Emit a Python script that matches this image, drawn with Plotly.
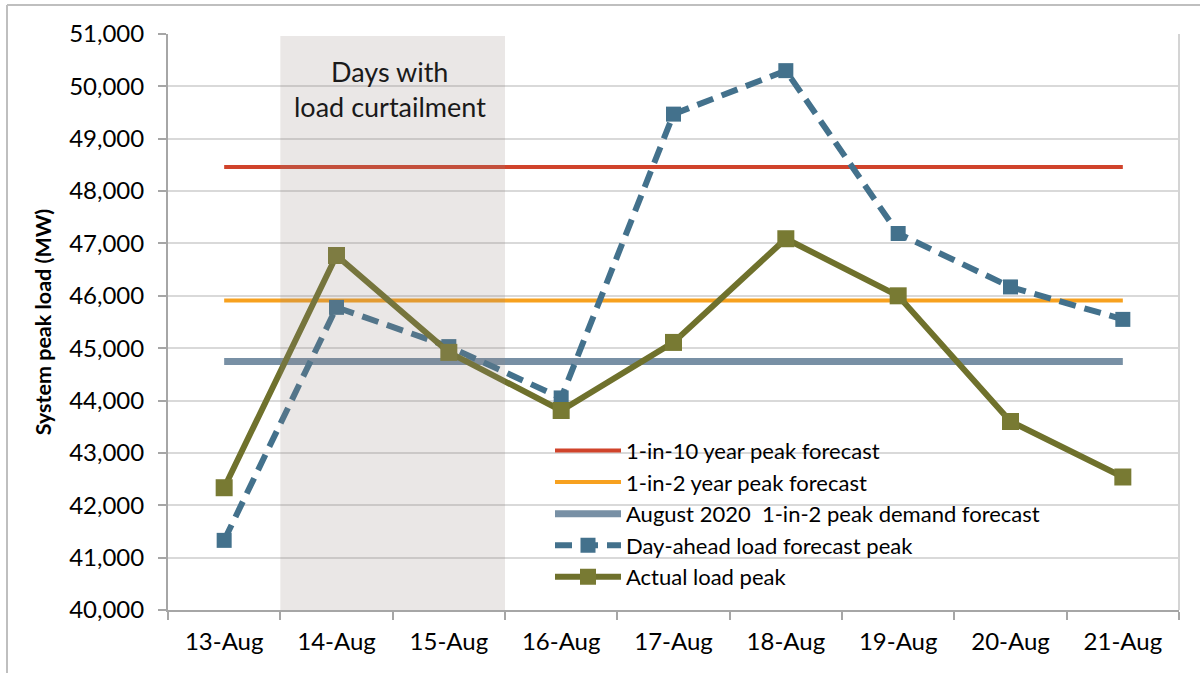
import plotly.graph_objects as go

categories = ["13-Aug", "14-Aug", "15-Aug", "16-Aug", "17-Aug", "18-Aug", "19-Aug", "20-Aug", "21-Aug"]
day_ahead = [41330, 45780, 45030, 44050, 49470, 50300, 47190, 46170, 45550]
actual = [42335, 46770, 44920, 43810, 45110, 47090, 46000, 43600, 42540]
one_in_10 = 48460
one_in_2 = 45910
aug2020 = 44745
curtail_days = ["14-Aug", "15-Aug"]

FONT = "Lato"
W, H = 1200, 673
L, R, T, B = 168, 1179, 34, 610.5

fig = go.Figure()

ends = [categories[0], categories[-1]]
fig.add_trace(go.Scatter(x=ends, y=[one_in_10, one_in_10], mode="lines",
                         name="1-in-10 year peak forecast", legendgroup="a",
                         line=dict(color="#d0432b", width=4)))
fig.add_trace(go.Scatter(x=ends, y=[one_in_2, one_in_2], mode="lines",
                         name="1-in-2 year peak forecast", legendgroup="b",
                         line=dict(color="#f7a11f", width=4)))
fig.add_trace(go.Scatter(x=ends, y=[aug2020, aug2020], mode="lines",
                         name="August 2020  1-in-2 peak demand forecast", legendgroup="c",
                         line=dict(color="#7890a5", width=7)))
fig.add_trace(go.Scatter(x=categories, y=day_ahead, mode="lines+markers",
                         name="Day-ahead load forecast peak", legendgroup="d",
                         line=dict(color="#43718c", width=6, dash="17px,9px"),
                         marker=dict(symbol="square", size=15, color="#43718c")))
fig.add_trace(go.Scatter(x=categories, y=actual, mode="lines+markers",
                         name="Actual load peak", legendgroup="e",
                         line=dict(color="#6f712c", width=6),
                         marker=dict(symbol="square", size=17, color="#787a33")))

pw = R - L
ph = B - T
def px(x):
    return (x - L) / pw
def py(y):
    return (B - y) / ph

shapes = [
    # shaded curtailment days
    dict(type="rect", xref="x", yref="paper",
         x0=categories.index(curtail_days[0]) - 0.5, x1=categories.index(curtail_days[-1]) + 0.5,
         y0=0, y1=py(36), fillcolor="rgba(150,135,130,0.2)", line=dict(width=0), layer="above"),
    # right plot border
    dict(type="line", xref="paper", yref="paper", x0=1, x1=1, y0=0, y1=1,
         line=dict(color="#d4d4d4", width=2)),
    # outer chart border
    dict(type="line", xref="paper", yref="paper", x0=px(7), x1=px(1210), y0=py(5), y1=py(5),
         line=dict(color="#bfbfbf", width=2)),
    dict(type="line", xref="paper", yref="paper", x0=px(7), x1=px(7), y0=py(5), y1=py(680),
         line=dict(color="#bfbfbf", width=2)),
]

annotations = [
    dict(text="Days with", xref="x", yref="paper", x=1.5, y=py(72), xshift=-3,
         xanchor="center", yanchor="middle",
         showarrow=False, font=dict(family=FONT, size=27, color="#1a1a1a")),
    dict(text="load curtailment", xref="x", yref="paper", x=1.5, y=py(107), xshift=-3,
         xanchor="center", yanchor="middle",
         showarrow=False, font=dict(family=FONT, size=27, color="#1a1a1a")),
]

fig.update_layout(
    width=W, height=H,
    margin=dict(l=L, r=W - R, t=T, b=H - B, autoexpand=False),
    paper_bgcolor="white", plot_bgcolor="white",
    font=dict(family=FONT, color="#000000"),
    shapes=shapes, annotations=annotations,
    showlegend=True,
    legend=dict(x=px(550), y=py(430), xanchor="left", yanchor="top",
                bgcolor="rgba(0,0,0,0)", font=dict(family=FONT, size=22, color="#000"),
                traceorder="grouped", tracegroupgap=0, itemwidth=66),
    xaxis=dict(type="category", categoryorder="array", categoryarray=categories,
               range=[-0.5, len(categories) - 0.5],
               showgrid=False, showline=True, linecolor="#a6a6a6", linewidth=2,
               ticks="outside", tickson="boundaries", ticklen=8, tickcolor="#a6a6a6", tickwidth=2,
               tickfont=dict(family=FONT, size=24, color="#000"), ticklabelstandoff=9,
               zeroline=False, fixedrange=True),
    yaxis=dict(range=[40000, 51000], dtick=1000, tick0=40000, tickformat=",",
               showgrid=True, gridcolor="#d9d9d9", gridwidth=2,
               showline=True, linecolor="#a6a6a6", linewidth=2,
               ticks="outside", ticklen=8, tickcolor="#a6a6a6", tickwidth=2,
               tickfont=dict(family=FONT, size=24, color="#000"), ticklabelstandoff=9,
               title=dict(text="<b>System peak load (MW)</b>", standoff=12,
                          font=dict(family=FONT, size=21.5, color="#000")),
               zeroline=False, fixedrange=True),
)

fig.write_html("out.html", config={"displayModeBar": False},
               post_script="document.body.style.margin='0';")
